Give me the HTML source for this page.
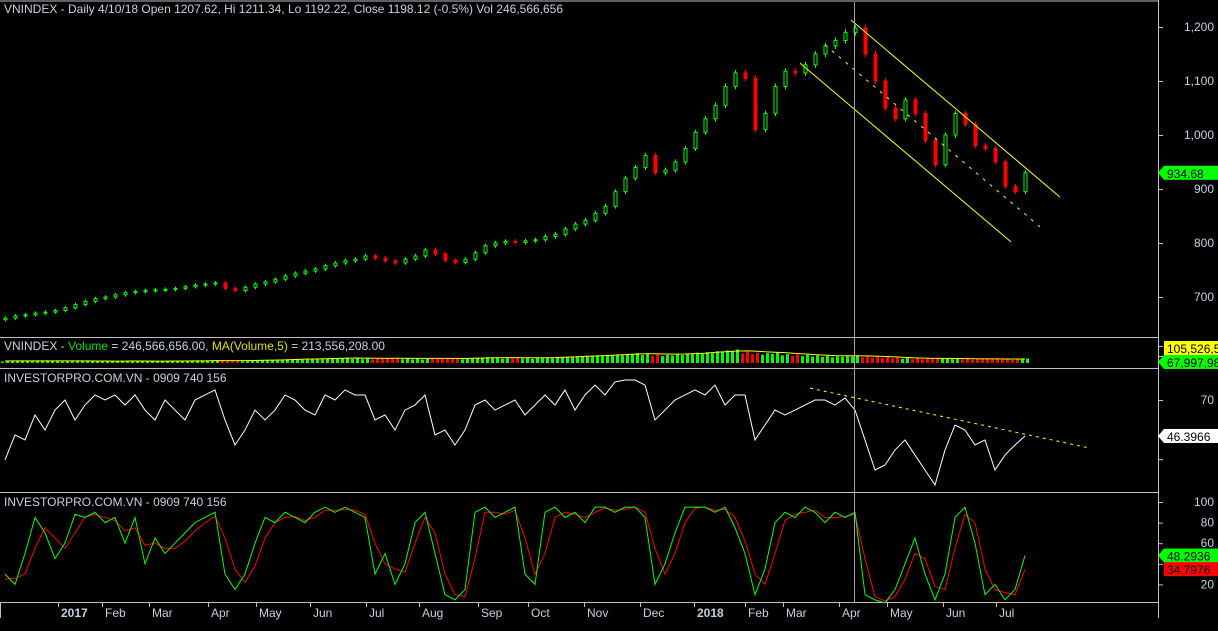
<!DOCTYPE html>
<html><head><meta charset="utf-8"><style>
html,body{margin:0;padding:0;background:#000;width:1218px;height:631px;overflow:hidden}
svg{display:block;font-family:"Liberation Sans",Arial,sans-serif}
</style></head><body>
<svg id="c" width="1218" height="631" viewBox="0 0 1218 631">
<g id="grid">
<line x1="0" y1="1" x2="1158" y2="1" stroke="#c0c0c0"/>
<line x1="0" y1="337.5" x2="1158" y2="337.5" stroke="#c0c0c0"/>
<line x1="0" y1="368.5" x2="1158" y2="368.5" stroke="#c0c0c0"/>
<line x1="0" y1="492.5" x2="1158" y2="492.5" stroke="#c0c0c0"/>
<line x1="0" y1="602.5" x2="1158" y2="602.5" stroke="#c0c0c0"/>
<line x1="1158.5" y1="0" x2="1158.5" y2="618" stroke="#c0c0c0"/>
<line x1="0.5" y1="602" x2="0.5" y2="618" stroke="#c0c0c0"/>
</g>
<g id="price"></g>
<g id="vol"></g>
<g id="rsi"></g>
<g id="sto"></g>
<g id="axes"></g>
<line x1="854.5" y1="2" x2="854.5" y2="602" stroke="#a0a0a0"/>
<g fill="#c8d0e0" font-size="12">
<text x="4" y="13">VNINDEX - Daily 4/10/18 Open 1207.62, Hi 1211.34, Lo 1192.22, Close 1198.12 (-0.5%) Vol 246,566,656</text>
<text x="4" y="350">VNINDEX - <tspan fill="#00e000">Volume</tspan> = 246,566,656.00, <tspan fill="#e0e000">MA(Volume,5)</tspan> = 213,556,208.00</text>
<text x="4" y="382">INVESTORPRO.COM.VN - 0909 740 156</text>
<text x="4" y="506">INVESTORPRO.COM.VN - 0909 740 156</text>
</g>
</svg>
<script>
const closes=[661,665,667,670,672,675,680,686,692,697,700,704,708,710,712,713,714,716,719,722,724,726,716,712,718,724,728,733,739,744,748,752,758,763,767,770,776,772,767,763,770,776,787,780,768,764,770,782,795,800,803,801,804,806,812,816,826,835,842,855,868,895,920,940,962,930,935,950,975,1005,1030,1055,1090,1115,1105,1010,1040,1090,1118,1115,1130,1150,1165,1175,1190,1198,1150,1100,1050,1030,1065,1040,990,945,1000,1040,1020,980,975,950,905,895,930];
const volumes=[40,45,50,42,55,48,40,45,50,42,38,40,45,50,42,40,44,48,45,50,55,60,52,48,45,60,70,75,80,90,85,95,100,110,120,105,100,95,110,120,100,95,90,110,105,100,95,120,130,125,110,120,115,110,125,130,140,150,160,170,180,190,200,220,210,190,180,200,210,230,240,260,280,300,250,230,220,240,200,190,180,170,160,150,165,170,150,140,130,120,110,100,95,105,110,100,90,85,95,90,85,80,100];
const volMA=[45,46,47,47,48,48,47,46,46,45,44,43,43,44,44,43,43,44,45,46,48,52,54,53,52,55,60,65,70,78,85,88,94,100,106,110,108,106,104,106,106,104,102,103,104,102,100,105,112,118,120,120,118,116,118,120,128,136,146,156,165,175,185,198,205,205,200,198,200,208,218,235,250,265,270,265,250,240,230,215,200,185,175,165,162,160,158,152,145,135,125,115,108,104,102,100,98,95,93,92,90,88,90];
const rsiVals=[29.5,46.4,43,59.9,49.7,63.2,70,56.5,66.6,73.4,70,73.4,66.6,73.4,63.2,56.5,70,63.2,56.5,70,73.4,76.8,56.5,39.6,49.7,63.2,56.5,63.2,73.4,70,63.2,59.9,73.4,70,76.8,73.4,73.4,56.5,59.9,49.7,63.2,66.6,73.4,46.4,49.7,39.6,49.7,66.6,70,63.2,66.6,70,59.9,66.6,73.4,66.6,76.8,63.2,73.4,80.1,73.4,82.2,83.5,83.5,80.1,56.5,63.2,70,73.4,76.8,73.4,80.1,66.6,73.4,73.4,43,53.1,63.2,59.9,63.2,66.6,70,70,66.6,71.4,63.2,43,22.7,26.1,36.2,43,32.8,22.7,12.6,36.2,53.1,49.7,39.6,43,22.7,32.8,39.6,45.7];
const stochK=[30,20,50,85,70,45,60,88,85,90,80,85,60,85,40,65,50,60,70,80,85,90,30,15,30,60,85,80,90,85,80,90,95,90,95,90,85,30,50,20,40,80,90,50,10,5,15,90,95,85,90,95,30,20,90,95,85,90,80,95,95,90,95,95,85,20,40,70,95,95,95,90,95,75,50,10,35,80,90,85,95,90,80,90,85,90,10,5,2,15,40,65,30,5,30,85,95,60,10,20,5,15,48];
const stochD=[25,26,30,55,75,65,55,70,85,88,85,82,72,75,58,60,55,55,62,72,80,86,65,35,22,38,65,80,85,86,82,85,92,92,93,92,88,60,40,35,32,60,85,70,30,10,8,45,90,90,88,92,65,30,50,85,90,88,85,90,94,92,93,95,90,55,30,50,80,94,95,92,93,85,62,30,20,50,82,88,90,92,85,85,86,88,45,8,4,8,25,50,45,18,15,55,88,80,35,15,12,10,34.8];
const priceTicks=[700,800,900,1000,1100,1200];
const priceTickLabels=["700","800","900","1,000","1,100","1,200"];
const stochTicks=[20,40,60,80,100];
const stochTickLabels=["20","","60","80","100"];
const rsiTicks=[70,30];
const months=[["2017",58,true],["Feb",102],["Mar",149],["Apr",208],["May",256],["Jun",310],["Jul",366],["Aug",419],["Sep",478],["Oct",528],["Nov",584],["Dec",640],["2018",694,true],["Feb",745],["Mar",783],["Apr",839],["May",887],["Jun",943],["Jul",996]];
const channelUpper=[[84.6,1213],[105.5,885]];
const channelLower=[[79.5,1133],[100.6,802]];
const channelMid=[[82,1167],[103.5,830]];
const rsiTrend=[[80.5,78],[108.5,37.5]];

const NS="http://www.w3.org/2000/svg";
const X=i=>5+i*10;
const Yp=v=>27+(1200-v)*0.54;
const Yv=v=>363-v*0.045;
const Yr=v=>400+(70-v)*1.48;
const Ys=v=>502+(100-v)*1.03;
function mk(tag,attrs,parent){const e=document.createElementNS(NS,tag);for(const k in attrs)e.setAttribute(k,attrs[k]);parent.appendChild(e);return e;}
const gP=document.getElementById('price'),gV=document.getElementById('vol'),gR=document.getElementById('rsi'),gS=document.getElementById('sto'),gA=document.getElementById('axes');
closes.forEach((c,i)=>{
  const o=i?closes[i-1]:c-3;const up=c>=o;const col=up?'#00ff00':'#ff0000';
  const hi=Math.max(o,c)*1.005,lo=Math.min(o,c)*0.995;
  const w=mk('line',{x1:X(i)+0.5,x2:X(i)+0.5,y1:Yp(hi),y2:Yp(lo),stroke:col},gP);
  
  
  const top=Yp(Math.max(o,c)),h=Math.max(1,Yp(Math.min(o,c))-top);
  const r=mk('rect',{x:X(i)-1,y:top,width:3,height:h,fill:up?'#000':col,stroke:col},gP);
  
  
});
function tl(pts,dash,parent,yf){const l=mk('line',{x1:X(pts[0][0]),y1:yf(pts[0][1]),x2:X(pts[1][0]),y2:yf(pts[1][1]),stroke:'#ffff00','stroke-width':1,'stroke-dasharray':dash||'none'},parent);return l;}
let t=tl(channelUpper,'',gP,Yp);
t=tl(channelLower,'',gP,Yp);
t=tl(channelMid,'3,6',gP,Yp);
volumes.forEach((v,i)=>{
  const up=i==0||closes[i]>=closes[i-1];
  for(let k=0;k<2;k++){
  const r=mk('rect',{x:X(i)-4+k*5,y:Yv(v*(k?1:0.85)),width:3,height:363-Yv(v*(k?1:0.85)),fill:up?'#00ff00':'#ff0000'},gV);
  
  }
});
let pl=mk('polyline',{points:volMA.map((v,i)=>X(i)+','+Yv(v)).join(' '),fill:'none',stroke:'#ffff00'},gV);

pl=mk('polyline',{points:rsiVals.map((v,i)=>X(i)+','+Yr(v)).join(' '),fill:'none',stroke:'#ffffff'},gR);

t=tl(rsiTrend,'3,4',gR,Yr);
pl=mk('polyline',{points:stochD.map((v,i)=>X(i)+','+Ys(v)).join(' '),fill:'none',stroke:'#ff0000'},gS);

pl=mk('polyline',{points:stochK.map((v,i)=>X(i)+','+Ys(v)).join(' '),fill:'none',stroke:'#00ff00'},gS);

function tick(y,label,name){mk('line',{x1:1158,x2:1163,y1:y+0.5,y2:y+0.5,stroke:'#c0c0c0'},gA);
  if(label){const e=mk('text',{x:1214,y:y+4,'text-anchor':'end',fill:'#c8d0e0','font-size':12},gA);e.textContent=label;
  }}
priceTicks.forEach((v,i)=>tick(Yp(v),priceTickLabels[i],'price-tick-label'));
rsiTicks.forEach(v=>tick(Yr(v),v==70?'70':'','rsi-tick-label'));
stochTicks.forEach((v,i)=>tick(Ys(v),stochTickLabels[i],'stoch-tick-label'));
tick(346,'','vol-tick');tick(356,'','vol-tick');
months.forEach(m=>{mk('line',{x1:m[1]+0.5,x2:m[1]+0.5,y1:602,y2:607,stroke:'#c0c0c0'},gA);
  const e=mk('text',{x:m[1]+3,y:617,fill:'#c8d0e0','font-size':12,'font-weight':m[2]?'bold':'normal'},gA);e.textContent=m[0];
  });
function tag(y,txt,bg,fg,name,arrow){
  const g=mk('g',{},gA);
  if(arrow)mk('polygon',{points:`1158,${y} 1164,${y-7} 1164,${y+7}`,fill:bg},g);
  mk('rect',{x:1164,y:y-7,width:60,height:14,fill:bg},g);
  const e=mk('text',{x:1167,y:y+5,fill:fg,'font-size':12},g);e.textContent=txt;}
tag(Yp(closes[closes.length-1]),'934.68','#00ff00','#000','last-price-tag',true);
tag(348,'105,526,5','#ffff00','#000','volume-ma-tag',false);
tag(362,'67,997,98','#00ff00','#000','volume-tag',true);
tag(Yr(rsiVals[rsiVals.length-1]),'46.3966','#ffffff','#000','rsi-tag',true);
tag(Ys(stochK[stochK.length-1]),'48.2936','#00ff00','#000','stoch-k-tag',true);
tag(Ys(stochD[stochD.length-1]),'34.7976','#ff0000','#000','stoch-d-tag',false);
</script>
</body></html>
